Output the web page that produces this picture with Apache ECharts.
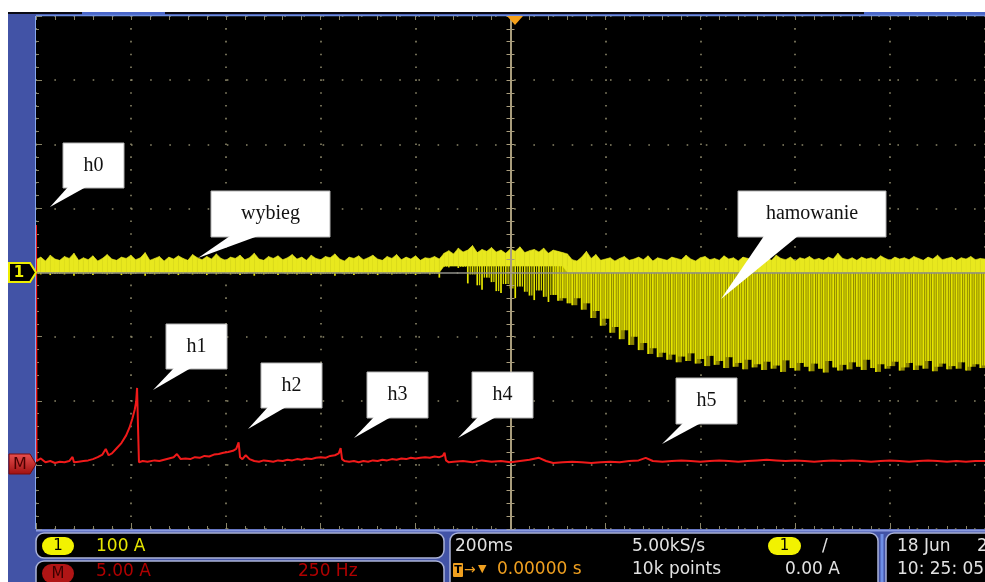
<!DOCTYPE html>
<html><head><meta charset="utf-8">
<script src="https://cdn.jsdelivr.net/npm/echarts@6/dist/echarts.min.js"></script>
<style>
html,body{margin:0;padding:0;background:#fff;overflow:hidden;}
#bg{position:absolute;left:8px;top:12px;width:977px;height:570px;background:#4253a6;}
#chart{position:absolute;left:0;top:0;width:985px;height:582px;}
</style></head><body><div id="bg"></div><div id="chart"></div>
<script>
// ---------------- data ----------------
// time axis: 200 ms / div, 10 divisions, trigger at 0
const timeMinMs = -1000, timeMaxMs = 1000, timeDivMs = 200;
// channel 1 : 100 A / div, zero at screen centre
const ch1MinA = -400, ch1MaxA = 400, ch1DivA = 100;
// math channel M : 5.00 A / div, zero 3 div below centre
const mMinA = -5, mMaxA = 35, mDivA = 5;

// channel 1 sampled every 10 ms from -1000 ms (envelope of the noisy trace)
const ch1StartMs = -1000, ch1StepMs = 10;
const ch1HiA = [
 20,24,18,27,21,19,25,22,30,19, 23,20,26,18,22,28,21,19,24,22,
 27,20,23,31,19,22,25,18,24,21, 26,22,19,28,23,20,25,21,29,22,
 19,24,22,27,20,23,30,21,19,25, 22,26,20,23,28,21,24,19,27,22,
 20,25,23,29,21,18,24,22,26,20, 23,27,21,19,25,22,28,20,24,21,
 26,19,23,22,25,21,
 30,34,29,38,32,35,42,31,36,33, 39,32,35,30,37,33,40,31,34,36,
 32,38,30,35,33,31,29,
 20,18,24,33,22,28,19,21,23,18, 22,25,19,21,24,20,26,18,23,21,
 19,24,22,20,27,21,18,23,25,20, 22,19,26,21,23,18,24,22,20,25,
 21,23,19,27,22,20,24,18,23,21, 25,20,22,19,24,21,30,22,20,23,
 19,24,21,23,20,26,22,19,24,21, 23,20,25,22,19,24,21,27,20,22,
 24,19,23,21,25,20,22,21
];
const ch1LoA = [
 -2,-3,-1,-4,-2,-2,-3,-1,-5,-2, -3,-2,-4,-1,-2,-3,-2,-1,-4,-2,
 -3,-2,-1,-5,-2,-3,-2,-1,-3,-2, -4,-2,-1,-3,-2,-2,-4,-1,-3,-2,
 -1,-3,-2,-4,-2,-1,-5,-2,-3,-2, -2,-4,-1,-3,-2,-3,-2,-1,-4,-2,
 -3,-2,-2,-5,-1,-3,-2,-4,-2,-1, -3,-2,-4,-1,-2,-3,-2,-1,-3,-2,
 -4,-2,-1,-3,-2,-8,
 9,8,10,7,9,-17,-3,-20,-27,-8, -15,-29,-32,-18,-25,-40,-22,-30,-36,-43,
 -28,-38,-46,-35,-44,-40,-48,
 -51,-40,-58,-48,-71,-60,-83,-72,-94,-85, -104,-90,-113,-100,-121,-110,-127,-118,-132,-125,
 -136,-128,-140,-131,-138,-126,-142,-135,-146,-130, -144,-138,-149,-132,-147,-141,-151,-136,-148,-143,
 -152,-139,-150,-145,-155,-137,-149,-153,-141,-147, -154,-142,-150,-156,-138,-148,-153,-144,-151,-140,
 -147,-152,-136,-149,-155,-143,-150,-146,-139,-153, -148,-141,-152,-145,-150,-138,-154,-147,-142,-151,
 -146,-150,-140,-153,-147,-143,-149,-145
];
// dense band level of channel 1 (steps up between these times)
const ch1RaisedFromMs = -145, ch1RaisedToMs = 115, ch1RaisedLevelA = 10;
const ch1BrakingFromMs = 90;

// math trace M : [time ms, current A]
const mTrace = [
 [-1000,18.7],[-999,0.3],[-990,0.5],[-980,0.2],[-970,0.3],[-960,0.15],[-950,0.25],[-940,0.2],[-930,0.3],[-923,0.62],
 [-920,0.2],[-910,0.25],[-900,0.3],[-890,0.35],[-880,0.45],[-870,0.6],[-860,0.8],[-853,1.24],[-847,0.75],[-840,0.9],
 [-830,1.3],[-820,1.7],[-810,2.3],[-803,2.9],[-797,3.6],[-792,4.3],[-789,4.9],[-787,6.0],[-785,3.0],[-783,0.2],
 [-775,0.3],[-765,0.25],[-750,0.35],[-740,0.3],[-730,0.4],[-720,0.5],[-710,0.6],[-703,0.85],[-695,0.45],[-685,0.5],
 [-675,0.45],[-665,0.6],[-655,0.55],[-645,0.7],[-635,0.65],[-625,0.8],[-615,0.85],[-605,0.95],[-595,1.0],[-585,1.1],
 [-578,1.25],[-573,1.75],[-570,0.6],[-565,0.45],[-558,0.75],[-550,0.45],[-540,0.3],[-530,0.25],[-520,0.35],[-510,0.3],
 [-500,0.25],[-490,0.35],[-480,0.3],[-470,0.4],[-460,0.35],[-450,0.45],[-440,0.4],[-430,0.5],[-420,0.45],[-410,0.55],
 [-400,0.6],[-390,0.55],[-380,0.7],[-370,0.75],[-362,0.9],[-358,1.3],[-355,0.45],[-350,0.3],[-340,0.25],[-330,0.3],
 [-320,0.2],[-310,0.3],[-300,0.25],[-290,0.35],[-280,0.3],[-270,0.4],[-260,0.35],[-250,0.45],[-240,0.4],[-230,0.5],
 [-220,0.45],[-210,0.55],[-200,0.5],[-190,0.55],[-180,0.6],[-170,0.55],[-160,0.65],[-150,0.6],[-143,0.7],[-139,0.95],
 [-136,0.35],[-130,0.2],[-120,0.25],[-100,0.3],[-80,0.2],[-60,0.35],[-40,0.25],[-20,0.3],[0,0.2],[20,0.3],
 [40,0.4],[60,0.55],[75,0.3],[90,0.15],[110,0.2],[130,0.25],[150,0.2],[170,0.15],[190,0.2],[210,0.25],
 [230,0.2],[250,0.3],[270,0.35],[285,0.55],[300,0.3],[320,0.25],[340,0.3],[360,0.35],[380,0.3],[400,0.25],
 [420,0.3],[440,0.35],[460,0.3],[480,0.25],[500,0.3],[520,0.35],[540,0.4],[560,0.35],[580,0.3],[600,0.35],
 [620,0.3],[640,0.25],[660,0.3],[680,0.35],[700,0.3],[720,0.35],[740,0.3],[760,0.25],[780,0.3],[800,0.35],
 [820,0.3],[840,0.25],[860,0.3],[880,0.35],[900,0.3],[920,0.25],[940,0.3],[960,0.25],[980,0.3],[1000,0.3]
];

// texts
const calloutLabels = ['h0','wybieg','hamowanie','h1','h2','h3','h4','h5'];
const ch1Scale = '100 A', mScale = '5.00 A', mFreq = '250 Hz';
const timeBase = '200ms', sampleRate = '5.00kS/s', recordLen = '10k points';
const trigLevel = '0.00 A', trigPos = '0.00000 s', dateText = '18 Jun', yearText = '2', timeText = '10: 25: 05';

// ---------------- layout / style ----------------
const dotC = '#8a8568';
const uiFont = '17px "DejaVu Sans", sans-serif';
const calloutGeom = [ // box x,y,w,h ; pointer base x1,x2 ; tip x,y
 [63,143,61,45, 68,86, 50,207],
 [211,191,119,46, 230,258, 198,258],
 [738,191,148,46, 764,798, 721,299],
 [166,324,61,45, 174,191, 153,390],
 [261,363,61,45, 268,286, 248,429],
 [367,372,61,46, 374,391, 354,438],
 [472,372,61,46, 478,496, 458,438],
 [676,378,61,46, 683,701, 662,444]
];

const ch1Data = ch1HiA.map((hi, i) => {
  const t = ch1StartMs + i * ch1StepMs;
  const lvl = (t >= ch1RaisedFromMs && t < ch1RaisedToMs) ? ch1RaisedLevelA : 0;
  return [t, ch1LoA[i], hi, lvl];
});

const chart = echarts.init(document.getElementById('chart'), null, {renderer: 'canvas'});

function baseX(extra) {
  return Object.assign({type: 'value', min: timeMinMs, max: timeMaxMs, interval: timeDivMs, gridIndex: 0,
    axisLabel: {show: false}, splitLine: {show: false}}, extra);
}
function baseY(extra) {
  return Object.assign({type: 'value', min: ch1MinA, max: ch1MaxA, interval: ch1DivA, gridIndex: 0,
    axisLabel: {show: false}, splitLine: {show: false}}, extra);
}

const graphics = [];
// top strip
graphics.push({type: 'rect', shape: {x: 8, y: 12, width: 977, height: 2}, style: {fill: '#0a0a14'}, z: 50});
graphics.push({type: 'rect', shape: {x: 82, y: 12, width: 83, height: 3}, style: {fill: '#4a66c8'}, z: 50});
graphics.push({type: 'rect', shape: {x: 864, y: 12, width: 121, height: 3}, style: {fill: '#4a66c8'}, z: 50});
graphics.push({type: 'line', shape: {x1: 36, y1: 15.5, x2: 985, y2: 15.5}, style: {stroke: '#6d8ee0', lineWidth: 1.5}, z: 50});
graphics.push({type: 'line', shape: {x1: 35.5, y1: 16, x2: 35.5, y2: 529}, style: {stroke: '#86a6ee', lineWidth: 1}, z: 50});
// trigger position marker
graphics.push({type: 'polygon', shape: {points: [[507, 16], [523, 16], [515, 25]]}, style: {fill: '#f6a01a'}, z: 50});
// channel markers
graphics.push({type: 'polygon', shape: {points: [[9, 263], [30, 263], [36, 272.5], [30, 282], [9, 282]]},
  style: {fill: '#000', stroke: '#eeee00', lineWidth: 2}, z: 50});
graphics.push({type: 'text', x: 19, y: 273, style: {text: '1', fill: '#eeee00', font: 'bold 15px "DejaVu Sans", sans-serif', align: 'center', verticalAlign: 'middle'}, z: 51});
graphics.push({type: 'polygon', shape: {points: [[9, 454], [30, 454], [36, 464], [30, 474], [9, 474]]},
  style: {fill: new echarts.graphic.LinearGradient(0, 0, 0, 1, [{offset: 0, color: '#e85050'}, {offset: 1, color: '#a01010'}]), stroke: '#7a0a0a', lineWidth: 1}, z: 50});
graphics.push({type: 'text', x: 20, y: 464.5, style: {text: 'M', fill: '#4a0000', font: '16px "DejaVu Sans", sans-serif', align: 'center', verticalAlign: 'middle'}, z: 51});
// bottom readout area
graphics.push({type: 'line', shape: {x1: 36, y1: 530.5, x2: 985, y2: 530.5}, style: {stroke: '#8a9ae0', lineWidth: 2}, z: 50});
const panelStyle = {fill: '#000', stroke: '#aab2d8', lineWidth: 1.5};
graphics.push({type: 'rect', shape: {x: 36, y: 533, width: 408, height: 25, r: 8}, style: panelStyle, z: 50});
graphics.push({type: 'rect', shape: {x: 36, y: 561, width: 408, height: 30, r: 8}, style: panelStyle, z: 50});
graphics.push({type: 'rect', shape: {x: 450, y: 533, width: 428, height: 58, r: 8}, style: panelStyle, z: 50});
graphics.push({type: 'rect', shape: {x: 886, y: 533, width: 120, height: 58, r: 8}, style: panelStyle, z: 50});
graphics.push({type: 'line', shape: {x1: 882, y1: 534, x2: 882, y2: 582}, style: {stroke: '#6f8fe6', lineWidth: 3}, z: 50});
function pill(x, y, w, h, fill, txt, tfill) {
  graphics.push({type: 'rect', shape: {x, y, width: w, height: h, r: h / 2}, style: {fill}, z: 51});
  graphics.push({type: 'text', x: x + w / 2, y: y + h / 2 + 0.5, style: {text: txt, fill: tfill, font: '15px "DejaVu Sans", sans-serif', align: 'center', verticalAlign: 'middle'}, z: 52});
}
function txt(x, y, t, fill, font) {
  graphics.push({type: 'text', x, y, style: {text: t, fill, font: font || uiFont, align: 'left', verticalAlign: 'middle'}, z: 52});
}
pill(42, 537, 32, 18, '#f2f200', '1', '#000');
txt(96, 546.5, ch1Scale, '#e6e600');
pill(42, 564, 32, 19, '#b01515', 'M', '#3a0000');
txt(96, 572, mScale, '#b00000');
txt(298, 572, mFreq, '#b00000');
txt(455, 546.5, timeBase, '#e2e2e2');
txt(632, 546.5, sampleRate, '#e2e2e2');
pill(768, 537, 33, 18, '#f2f200', '1', '#000');
txt(822, 546.5, '/', '#e2e2e2');
graphics.push({type: 'rect', shape: {x: 453, y: 563, width: 10, height: 14, r: 1}, style: {fill: '#f0a020'}, z: 51});
graphics.push({type: 'text', x: 458, y: 570.5, style: {text: 'T', fill: '#000', font: 'bold 11px "DejaVu Sans", sans-serif', align: 'center', verticalAlign: 'middle'}, z: 52});
txt(464, 570, '→', '#f0a020', '14px "DejaVu Sans", sans-serif');
txt(478, 569, '▼', '#f0a020', '11px "DejaVu Sans", sans-serif');
txt(497, 570, trigPos, '#f0a020');
txt(632, 570, recordLen, '#e2e2e2');
txt(785, 570, trigLevel, '#e2e2e2');
txt(897, 546.5, dateText, '#e2e2e2');
txt(977, 546.5, yearText, '#e2e2e2');
txt(897, 570, timeText, '#e2e2e2');
// callouts
calloutLabels.forEach((label, k) => {
  const [bx, by, bw, bh, p1, p2, tx, ty] = calloutGeom[k];
  graphics.push({type: 'rect', shape: {x: bx, y: by, width: bw, height: bh}, style: {fill: '#fff', stroke: '#b4b4b4', lineWidth: 1}, z: 60});
  graphics.push({type: 'polygon', shape: {points: [[p1, by + bh - 1], [p2, by + bh - 1], [tx, ty]]}, style: {fill: '#fff'}, z: 61});
  graphics.push({type: 'text', x: bx + bw / 2, y: by + bh / 2, style: {text: label, fill: '#111', font: '20px "Liberation Serif", serif', align: 'center', verticalAlign: 'middle'}, z: 62});
});

const option = {
  animation: false,
  backgroundColor: 'transparent',
  grid: {left: 36, top: 16, width: 958, height: 513, show: true, backgroundColor: '#000', borderWidth: 0},
  xAxis: [
    baseX({position: 'bottom', axisLine: {show: false, onZero: false},
      axisTick: {show: true, inside: true, length: 6, lineStyle: {color: dotC}},
      minorTick: {show: true, splitNumber: 5, length: 3, lineStyle: {color: dotC}},
      splitLine: {show: true, lineStyle: {color: dotC, width: 1.6, type: [1.6, 11.225], dashOffset: 0.8}}}),
    baseX({position: 'top', axisLine: {show: false, onZero: false},
      axisTick: {show: true, inside: true, length: 4, lineStyle: {color: dotC}},
      minorTick: {show: true, splitNumber: 5, length: 4, lineStyle: {color: dotC}}}),
    baseX({position: 'bottom', z: 3, axisLine: {show: true, onZero: true, onZeroAxisIndex: 0, lineStyle: {color: '#8f8f86', width: 1.5}},
      axisTick: {show: false}})
  ],
  yAxis: [
    baseY({position: 'left', axisLine: {show: false, onZero: false},
      axisTick: {show: true, inside: true, length: 6, lineStyle: {color: dotC}},
      minorTick: {show: true, splitNumber: 5, length: 3, lineStyle: {color: dotC}},
      splitLine: {show: true, lineStyle: {color: dotC, width: 1.6, type: [1.6, 17.56], dashOffset: 0.8}}}),
    baseY({position: 'left', z: 3, axisLine: {show: true, onZero: true, onZeroAxisIndex: 0, lineStyle: {color: '#a99d7c', width: 2}},
      axisTick: {show: true, inside: true, length: 4, lineStyle: {color: '#a99d7c'}},
      minorTick: {show: true, splitNumber: 5, length: 4, lineStyle: {color: '#a99d7c'}}}),
    baseY({position: 'left', z: 3, axisLine: {show: false, onZero: true, onZeroAxisIndex: 0},
      axisTick: {show: true, inside: false, length: 4, lineStyle: {color: '#a99d7c'}},
      minorTick: {show: true, splitNumber: 5, length: 4, lineStyle: {color: '#a99d7c'}}}),
    {type: 'value', min: mMinA, max: mMaxA, interval: mDivA, show: false, gridIndex: 0}
  ],
  series: [
    {
      name: 'CH1', type: 'custom', xAxisIndex: 0, yAxisIndex: 0, z: 2, clip: true,
      data: ch1Data,
      renderItem: function (params, api) {
        const i = params.dataIndexInside, n = params.dataInsideLength;
        const t = api.value(0), lo = api.value(1), hi = api.value(2), lvl = api.value(3);
        const j = i < n - 1 ? i + 1 : i;
        const t2 = api.value(0, j), lo2 = api.value(1, j), hi2 = api.value(2, j), lvl2 = api.value(3, j);
        const pHi = api.coord([t, hi]), pHi2 = api.coord([t2, hi2]);
        const pL2 = api.coord([t2, lvl2]), pL = api.coord([t, lvl]), pLo = api.coord([t, lo]);
        const w = api.size([ch1StepMs, 0])[0];
        const ch = [];
        if (lo < lvl && t >= ch1BrakingFromMs) {
          ch.push({type: 'rect', shape: {x: pL[0], y: pL[1], width: w + 0.4, height: pLo[1] - pL[1]}, style: {fill: '#8a8300'}});
        }
        if (lo < lvl) {
          ch.push({type: 'line', shape: {x1: pL[0], y1: pL[1], x2: pLo[0], y2: pLo[1]}, style: {stroke: '#e6e600', lineWidth: 1.7}});
          // second, shallower stripe half-way to the next sample
          if (j !== i && lo2 < lvl) {
            const mid = api.coord([t + ch1StepMs / 2, Math.max(lo, lo2)]);
            ch.push({type: 'line', shape: {x1: mid[0], y1: pL[1], x2: mid[0], y2: mid[1]}, style: {stroke: '#d4d400', lineWidth: 1.3}});
          }
        }
        if (j !== i) {
          ch.push({type: 'polygon', shape: {points: [pHi, pHi2, pL2, pL]}, style: {fill: '#e8e81e', stroke: '#e8e81e', lineWidth: 0.6}});
        }
        return {type: 'group', children: ch};
      }
    },
    {
      name: 'M', type: 'line', xAxisIndex: 0, yAxisIndex: 3, z: 4, showSymbol: false, clip: true,
      data: mTrace, lineStyle: {color: '#f01a1a', width: 2}, itemStyle: {color: '#f01a1a'}
    }
  ],
  graphic: {elements: graphics}
};
chart.setOption(option);
</script></body></html>
